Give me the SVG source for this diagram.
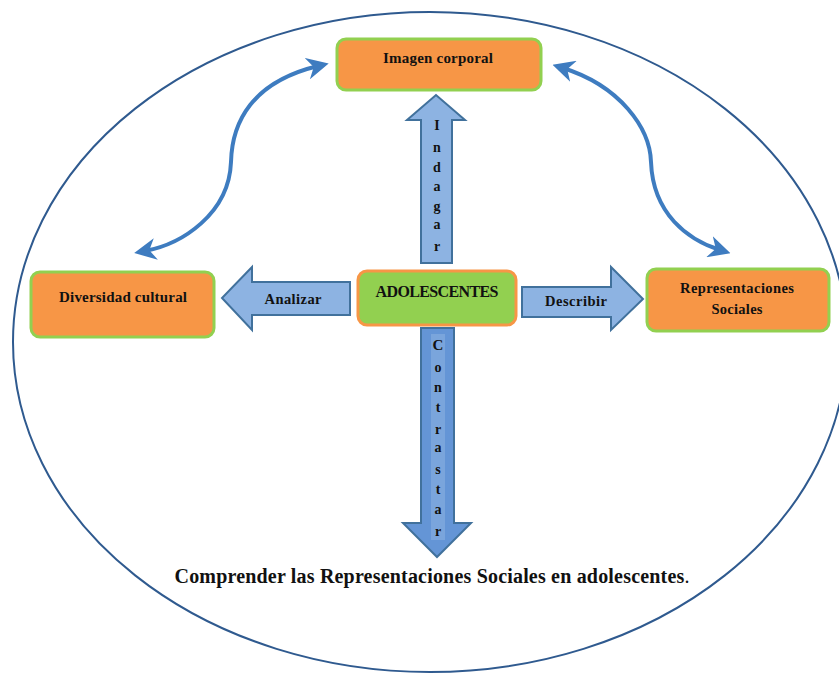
<svg xmlns="http://www.w3.org/2000/svg" width="839" height="675" viewBox="0 0 839 675">
<style>
.box{fill:#F79646;stroke:#92D050;stroke-width:3}
.center{fill:#92D050;stroke:#F79646;stroke-width:3}
.arr{fill:#8DB3E2;stroke:#41719C;stroke-width:2;stroke-linejoin:miter}
.t{font-family:"Liberation Serif","DejaVu Serif",serif;font-weight:bold;fill:#111;text-anchor:middle}
.curve{fill:none;stroke:#3E7CC0;stroke-width:4}
</style>
<defs>
<marker id="ah" viewBox="0 0 10 10" refX="5" refY="5" markerWidth="5.5" markerHeight="5.5" orient="auto-start-reverse" markerUnits="strokeWidth">
<path d="M0,0 L10,5 L0,10 L3,5 z" fill="#3E7CC0"/>
</marker>
</defs>
<rect width="839" height="675" fill="#fff"/>
<ellipse cx="430" cy="342" rx="417" ry="330" fill="none" stroke="#2F5A8F" stroke-width="2"/>
<g id="connectors">
<path class="curve" d="M 318 66 C 252 82 232 122 231 162 C 229 214 182 244 145 251" marker-start="url(#ah)" marker-end="url(#ah)"/>
<path class="curve" d="M 563 68 C 620 86 650 128 651 162 C 653 214 688 240 720 250" marker-start="url(#ah)" marker-end="url(#ah)"/>
<g id="arrow-indagar">
<path class="arr" d="M421,263 L421,120 L407,120 L436,95 L465,120 L452,120 L452,263 Z"/>
<text class="t" font-size="14" x="437" y="130">I</text>
<text class="t" font-size="14" x="437" y="152">n</text>
<text class="t" font-size="14" x="437" y="172">d</text>
<text class="t" font-size="14" x="437" y="191">a</text>
<text class="t" font-size="14" x="437" y="211">g</text>
<text class="t" font-size="14" x="437" y="229">a</text>
<text class="t" font-size="14" x="437" y="251">r</text>
</g>
<g id="arrow-contrastar">
<path class="arr" style="fill:#6495D6" d="M421,328 L454,328 L454,523 L471,523 L437,557 L403,523 L421,523 Z"/>
<rect x="431" y="334" width="14" height="206" fill="#7AA5DC"/>
<text class="t" font-size="15" x="438" y="350">C</text>
<text class="t" font-size="14" x="438" y="372">o</text>
<text class="t" font-size="14" x="438" y="392">n</text>
<text class="t" font-size="14" x="438" y="412">t</text>
<text class="t" font-size="14" x="438" y="434">r</text>
<text class="t" font-size="14" x="438" y="452">a</text>
<text class="t" font-size="14" x="438" y="474">s</text>
<text class="t" font-size="14" x="438" y="494">t</text>
<text class="t" font-size="14" x="438" y="514">a</text>
<text class="t" font-size="14" x="438" y="536">r</text>
</g>
<g id="arrow-analizar">
<path class="arr" d="M350,282 L252,282 L252,267 L222,298 L252,330 L252,315 L350,315 Z"/>
<text class="t" font-size="14.5" x="293" y="304" textLength="57">Analizar</text>
</g>
<g id="arrow-describir">
<path class="arr" d="M522,287 L611,287 L611,267 L643,299 L611,330 L611,317 L522,317 Z"/>
<text class="t" font-size="14.5" x="576" y="306" textLength="62">Describir</text>
</g>
</g>
<g id="node-imagen">
<rect class="box" x="337" y="39" width="204" height="51" rx="9"/>
<text class="t" font-size="15" x="438" y="63" textLength="110">Imagen corporal</text>
</g>
<g id="node-diversidad">
<rect class="box" x="31" y="272" width="183" height="65" rx="9"/>
<text class="t" font-size="15" x="123" y="302" textLength="128">Diversidad cultural</text>
</g>
<g id="node-adolescentes">
<rect class="center" x="358" y="271" width="158" height="54" rx="9"/>
<text class="t" font-size="16" x="437" y="297" textLength="123">ADOLESCENTES</text>
</g>
<g id="node-representaciones">
<rect class="box" x="647" y="269" width="182" height="62" rx="9"/>
<text class="t" font-size="14.5" x="737" y="293" textLength="114">Representaciones</text>
<text class="t" font-size="14.5" x="737" y="314" textLength="51">Sociales</text>
</g>
<g id="caption">
<text class="t" font-size="20" x="432" y="583" textLength="515">Comprender las Representaciones Sociales en adolescentes<tspan font-weight="normal">.</tspan></text>
</g>
</svg>
